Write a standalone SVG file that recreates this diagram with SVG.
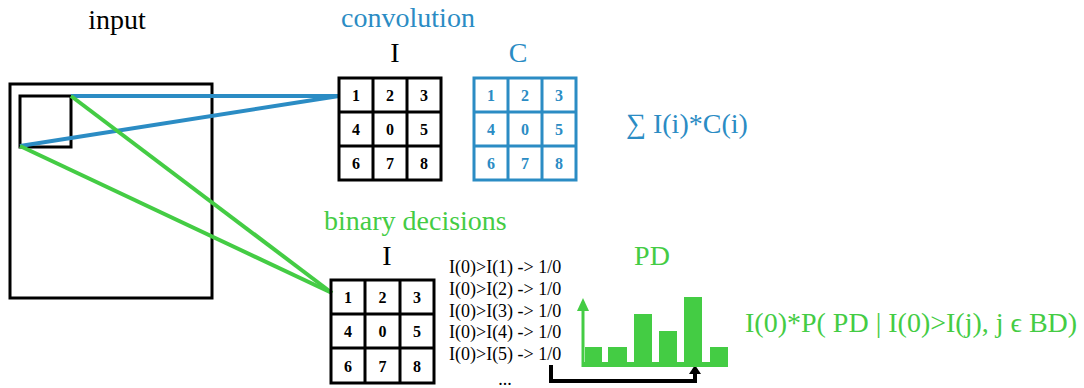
<svg xmlns="http://www.w3.org/2000/svg" width="1084" height="388" viewBox="0 0 1084 388" font-family="'Liberation Serif', 'DejaVu Serif', serif">
<style>
text{font-family:'Liberation Serif','DejaVu Serif',serif}
.t24{font-size:28px}
.num{font-size:16px;font-weight:bold;text-anchor:middle}
.lst{font-size:18px}
.blk{fill:#000}
.blu{fill:#2b8cc4}
.grn{fill:#44cc44}
.gridk{fill:none;stroke:#000;stroke-width:3}
.gridb{fill:none;stroke:#2b8cc4;stroke-width:3}
.cb{stroke:#2b8cc4;stroke-width:4;fill:none}
.cg{stroke:#44cc44;stroke-width:4;fill:none}
</style>
<g id="input">
<text class="t24 blk" x="117" y="29" text-anchor="middle">input</text>
<rect x="10" y="84" width="202" height="214" fill="none" stroke="#000" stroke-width="3"/>
<rect x="20" y="96" width="51" height="51" fill="none" stroke="#000" stroke-width="3"/>
</g>
<g id="connectors">
<line class="cb" x1="71" y1="96" x2="339" y2="96"/>
<line class="cb" x1="20" y1="146" x2="339" y2="96"/>
<line class="cg" x1="71" y1="96" x2="332" y2="293"/>
<line class="cg" x1="20" y1="146" x2="332" y2="293"/>
<path d="M551 365 V381 H695 V372" fill="none" stroke="#000" stroke-width="4"/>
<polygon points="695,365 689,374 701,374" fill="#000"/>
</g>
<g id="convolution">
<text class="t24 blu" x="408" y="27" text-anchor="middle">convolution</text>
</g>
<g id="conv-I">
<text class="t24 blk" x="395" y="62" text-anchor="middle">I</text>
<rect class="gridk" x="339" y="78" width="102" height="102"/>
<path class="gridk" d="M373 78V180M407 78V180M339 112H441M339 146H441"/>
<text class="num blk" x="356" y="101">1</text><text class="num blk" x="390" y="101">2</text><text class="num blk" x="424" y="101">3</text>
<text class="num blk" x="356" y="135">4</text><text class="num blk" x="390" y="135">0</text><text class="num blk" x="424" y="135">5</text>
<text class="num blk" x="356" y="169">6</text><text class="num blk" x="390" y="169">7</text><text class="num blk" x="424" y="169">8</text>
</g>
<g id="conv-C">
<text class="t24 blu" x="518" y="62" text-anchor="middle">C</text>
<rect class="gridb" x="474" y="78" width="102" height="102"/>
<path class="gridb" d="M508 78V180M542 78V180M474 112H576M474 146H576"/>
<text class="num blu" x="491" y="101">1</text><text class="num blu" x="525" y="101">2</text><text class="num blu" x="559" y="101">3</text>
<text class="num blu" x="491" y="135">4</text><text class="num blu" x="525" y="135">0</text><text class="num blu" x="559" y="135">5</text>
<text class="num blu" x="491" y="169">6</text><text class="num blu" x="525" y="169">7</text><text class="num blu" x="559" y="169">8</text>
</g>
<g id="sum">
<text class="t24 blu" x="626" y="133">∑ I(i)*C(i)</text>
</g>
<g id="binary-decisions">
<text class="t24 grn" x="324" y="230">binary decisions</text>
</g>
<g id="bd-I">
<text class="t24 blk" x="387" y="265" text-anchor="middle">I</text>
<rect class="gridk" x="331" y="280" width="103" height="103"/>
<path class="gridk" d="M365 280V383M400 280V383M331 314H434M331 348H434"/>
<text class="num blk" x="348" y="303">1</text><text class="num blk" x="382.5" y="303">2</text><text class="num blk" x="417" y="303">3</text>
<text class="num blk" x="348" y="337">4</text><text class="num blk" x="382.5" y="337">0</text><text class="num blk" x="417" y="337">5</text>
<text class="num blk" x="348" y="372">6</text><text class="num blk" x="382.5" y="372">7</text><text class="num blk" x="417" y="372">8</text>
</g>
<g id="list">
<text class="lst blk" x="449" y="273">I(0)&gt;I(1) -&gt; 1/0</text>
<text class="lst blk" x="449" y="295">I(0)&gt;I(2) -&gt; 1/0</text>
<text class="lst blk" x="449" y="316.5">I(0)&gt;I(3) -&gt; 1/0</text>
<text class="lst blk" x="449" y="338">I(0)&gt;I(4) -&gt; 1/0</text>
<text class="lst blk" x="449" y="359.5">I(0)&gt;I(5) -&gt; 1/0</text>
<text class="lst blk" x="505" y="385" text-anchor="middle">...</text>
</g>
<g id="pd">
<text class="t24 grn" x="652" y="265" text-anchor="middle">PD</text>
<line x1="583" y1="308" x2="583" y2="367" stroke="#44cc44" stroke-width="3"/>
<polygon points="583,298 577,311 589,311" fill="#44cc44"/>
<rect x="582" y="362" width="146" height="5" fill="#44cc44"/>
<rect x="585" y="347" width="17" height="17" fill="#44cc44"/>
<rect x="608" y="347" width="19" height="17" fill="#44cc44"/>
<rect x="634" y="314" width="18" height="50" fill="#44cc44"/>
<rect x="659" y="331" width="18" height="33" fill="#44cc44"/>
<rect x="684" y="297" width="18" height="67" fill="#44cc44"/>
<rect x="710" y="347" width="18" height="17" fill="#44cc44"/>
</g>
<g id="formula">
<text class="t24 grn" x="745" y="332">I(0)*P( PD | I(0)&gt;I(j), j ϵ BD)</text>
</g>
</svg>
